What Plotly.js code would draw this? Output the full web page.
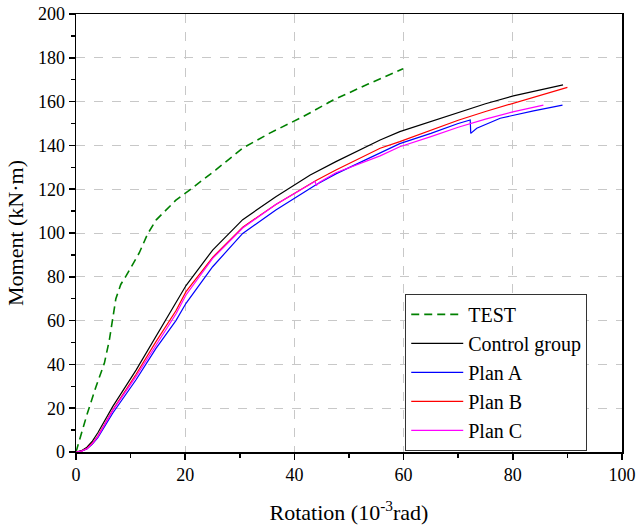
<!DOCTYPE html>
<html>
<head>
<meta charset="utf-8">
<script src="https://cdn.plot.ly/plotly-3.0.1.min.js"></script>
<style>html,body{margin:0;padding:0;background:#fff}</style>
</head>
<body>
<div id="chart" style="width:636px;height:532px"></div>
<script>
const testX = [0, 1, 2, 3.66, 5.19, 6.1, 6.7, 7.3, 8.2, 9.2, 11.6, 13.1, 14.7, 18.3, 20.8, 25.6, 30.5, 35.4, 41.5, 47.1, 53.5, 59.9];
const testY = [0, 8.5, 17, 29.8, 40.5, 51, 60, 70, 76.5, 80.5, 91, 99.5, 106, 115, 119.6, 128.8, 138.7, 145.5, 153, 160.7, 168, 175];

const ctrlX = [0, 1, 2, 3, 4, 6.72, 11, 14.65, 18.3, 20.15, 25.03, 30.53, 36.6, 42.9, 47.6, 55.7, 59.3, 65, 70, 75, 80.1, 85, 89.2];
const ctrlY = [0, 0.6, 2.2, 5.0, 8.8, 20.7, 37.4, 52.7, 67.9, 76, 92.2, 106.1, 116.6, 126.5, 132.6, 142.5, 146.3, 151, 155, 159, 162.6, 165.2, 167.6];

const planAX = [0, 1, 2, 3, 4, 6.72, 11, 14.65, 18.3, 20.15, 25.03, 30.53, 36.6, 43.96, 47.6, 55.7, 59.3, 65, 70, 72.2, 72.3, 73.4, 77.7, 83.8, 89.1];
const planAY = [0, 0.4, 1.4, 3.6, 6.6, 17.7, 33, 47.3, 60, 67.9, 84.6, 99.8, 110.5, 122, 127, 136.8, 140.8, 145.5, 150, 151.6, 145.5, 147.8, 152.4, 155.8, 158.4];

const planBX = [0, 1, 2, 3, 4, 6.72, 11, 14.65, 18.3, 20.15, 25.03, 30.53, 36.6, 43.96, 47.6, 55.7, 59.3, 65, 70, 75, 80.1, 85, 90];
const planBY = [0, 0.4, 1.6, 4.0, 7.3, 19.2, 35.5, 50.4, 64.5, 73.2, 88.9, 102.7, 113, 124, 128.8, 138.7, 141.7, 147, 151.5, 155.5, 159.2, 163, 166.5];

const planCX = [0, 1, 2, 3, 4, 6.72, 11, 14.65, 18.3, 20.15, 25.03, 30.53, 36.6, 43.8, 44.0, 44.6, 47.6, 55.7, 59.3, 65, 70, 75, 80, 85.6];
const planCY = [0, 0.4, 1.5, 3.8, 7.0, 18.9, 34.5, 48.9, 63, 71.7, 88.4, 102.3, 113, 123.6, 121.6, 123.2, 127.5, 135.2, 139.4, 144, 148.3, 152, 155.3, 158.4];

const names = ["TEST", "Control group", "Plan A", "Plan B", "Plan C"];

const font = "'Liberation Serif', 'DejaVu Serif', serif";

const traces = [
  {x: testX, y: testY, name: names[0], mode: "lines", line: {color: "#008000", width: 1.6, dash: "8px,5px"}},
  {x: ctrlX, y: ctrlY, name: names[1], mode: "lines", line: {color: "#000000", width: 1.2}},
  {x: planAX, y: planAY, name: names[2], mode: "lines", line: {color: "#0000ff", width: 1.2}},
  {x: planBX, y: planBY, name: names[3], mode: "lines", line: {color: "#ff0000", width: 1.2}},
  {x: planCX, y: planCY, name: names[4], mode: "lines", line: {color: "#ff00ff", width: 1.2}}
];

const axisCommon = {
  showline: true, linecolor: "#000", linewidth: 1.5, mirror: true,
  ticks: "outside", ticklen: 6, tickwidth: 1.5, tickcolor: "#000",
  showgrid: true, gridcolor: "#c8c8c8", griddash: "dash", gridwidth: 1,
  zeroline: false,
  tickfont: {family: font, size: 18, color: "#000"},
  minor: {ticks: "outside", ticklen: 4, tickwidth: 1.5, tickcolor: "#000", dtick: 10, showgrid: false}
};

const layout = {
  width: 636, height: 532,
  margin: {l: 76, r: 14, t: 14, b: 80},
  paper_bgcolor: "#fff", plot_bgcolor: "#fff",
  font: {family: font, color: "#000"},
  showlegend: true,
  xaxis: Object.assign({}, axisCommon, {
    range: [0, 100], dtick: 20, tick0: 0,
    title: {text: "Rotation (10<sup>-3</sup>rad)", font: {family: font, size: 22, color: "#000"}, standoff: 20}
  }),
  yaxis: Object.assign({}, axisCommon, {
    range: [0, 200], dtick: 20, tick0: 0,
    title: {text: "Moment (kN·m)", font: {family: font, size: 22, color: "#000"}, standoff: 8}
  }),
  legend: {
    x: 0.603, y: 0.361, xanchor: "left", yanchor: "top",
    bgcolor: "#fff", bordercolor: "#333", borderwidth: 1,
    font: {family: font, size: 20, color: "#000"},
    itemwidth: 52,
    tracegroupgap: 0
  }
};

Plotly.newPlot("chart", traces, layout, {displayModeBar: false, staticPlot: true});
</script>
</body>
</html>
